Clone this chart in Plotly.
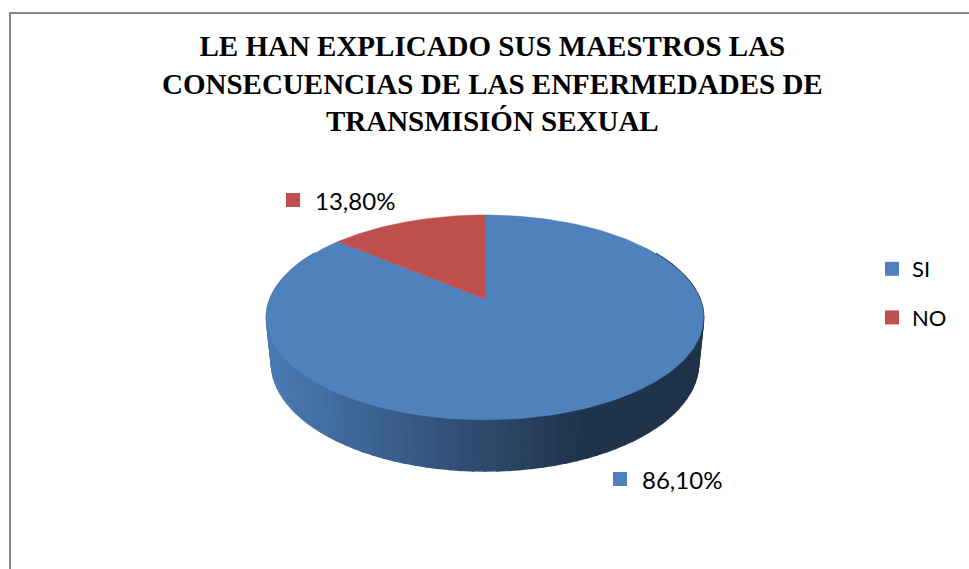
import numpy as np
import plotly.graph_objects as go

# ---------------- data ----------------
categories = ["SI", "NO"]
values = [86.1, 13.8]
label_texts = ["86,10%", "13,80%"]
title_lines = [
    "LE HAN EXPLICADO SUS MAESTROS LAS",
    "CONSECUENCIAS DE LAS ENFERMEDADES DE",
    "TRANSMISIÓN SEXUAL",
]

# ---------------- style / layout ----------------
slice_colors = ["#4f81bd", "#c0504d"]
label_pos = [(620, 479), (293, 200)]   # data-label anchor (marker centre), pixels
W, H = 969, 569
CX, CY = 485, 299          # pie centre on screen
FOC, DIST = 1060.0, 4.93   # perspective camera
SIN_E, COS_E = 0.461, 0.887  # elevation
THICK = 0.24               # pie thickness (radius units)
FONT = "Lato"


def proj(theta, yup=0.0):
    """theta: clockwise angle from 12 o'clock (rad). returns screen px."""
    X = np.sin(theta)
    Z = np.cos(theta)
    up = Z * SIN_E + yup * COS_E
    fwd = DIST + Z * COS_E - yup * SIN_E
    return CX + FOC * X / fwd, CY - FOC * up / fwd


total = float(sum(values))
bounds = np.concatenate([[0.0], np.cumsum(values) / total]) * 2 * np.pi


def slice_of(theta):
    t = theta % (2 * np.pi)
    for i in range(len(values)):
        if bounds[i] <= t < bounds[i + 1]:
            return i
    return len(values) - 1


def hex_rgb(h):
    h = h.lstrip("#")
    return tuple(int(h[i:i + 2], 16) for i in (0, 2, 4))


fig = go.Figure()

# ---- side wall (front part), drawn back to front ----
N = 90
ths = np.linspace(np.radians(60), np.radians(300), N + 1)
xl, _ = proj(np.radians(270))
xr, _ = proj(np.radians(90))
strips = []
for i in range(N):
    a, b = ths[i], ths[i + 1]
    m = 0.5 * (a + b)
    strips.append((np.cos(m), a, b, m))
strips.sort(key=lambda s: -s[0])
for _, a, b, m in strips:
    xa, ya = proj(a)
    xb, yb = proj(b)
    xa2, ya2 = proj(a, -THICK)
    xb2, yb2 = proj(b, -THICK)
    xm, _ = proj(m)
    t = np.clip((xm - xl) / (xr - xl), 0, 1)
    f = max(0.95 - 0.75 * t, 0.40)
    r, g, bl = hex_rgb(slice_colors[slice_of(m)])
    col = f"rgb({int(r*f)},{int(g*f)},{int(bl*f)})"
    fig.add_trace(go.Scatter(
        x=[xa, xb, xb2, xa2, xa], y=[ya, yb, yb2, ya2, ya],
        mode="lines", fill="toself", fillcolor=col,
        line=dict(color=col, width=1.6),
        hoverinfo="skip", showlegend=False))

# ---- top faces ----
for i, cat in enumerate(categories):
    th = np.linspace(bounds[i], bounds[i + 1], 200)
    px, py = proj(th)
    xs = np.concatenate([[CX], px, [CX]])
    ys = np.concatenate([[CY], py, [CY]])
    fig.add_trace(go.Scatter(
        x=xs, y=ys, mode="lines", fill="toself",
        fillcolor=slice_colors[i], line=dict(color=slice_colors[i], width=0.5),
        hoverinfo="text", text=f"{cat}: {label_texts[i]}", showlegend=False))

# ---- data labels ----
fig.add_trace(go.Scatter(
    x=[p[0] for p in label_pos], y=[p[1] for p in label_pos],
    mode="markers", marker=dict(symbol="square", size=14, color=slice_colors),
    hoverinfo="skip", showlegend=False))
for (lx, ly), txt in zip(label_pos, label_texts):
    fig.add_annotation(x=lx + 20, y=ly, xref="x", yref="y", xanchor="left",
                       yanchor="middle", text=txt, showarrow=False,
                       font=dict(family=FONT, size=24, color="#000000"))

# ---- legend entries ----
for i, cat in enumerate(categories):
    fig.add_trace(go.Scatter(
        x=[None], y=[None], mode="markers", name=cat, legendgroup=cat,
        marker=dict(symbol="square", size=14, color=slice_colors[i])))

fig.add_annotation(
    x=492, y=83, xref="x", yref="y", xanchor="center", yanchor="middle",
    text="<br>".join(f"<b>{l}</b>" for l in title_lines), showarrow=False,
    font=dict(family="Liberation Serif, Times New Roman, serif", size=29,
              color="#000000"))

fig.add_shape(type="rect", xref="x", yref="y", x0=10, y0=13, x1=1100, y1=700,
              line=dict(color="#878787", width=2), layer="above")

fig.update_layout(
    width=W, height=H, margin=dict(l=0, r=0, t=0, b=0),
    paper_bgcolor="white", plot_bgcolor="white",
    xaxis=dict(range=[0, W], visible=False, fixedrange=True),
    yaxis=dict(range=[H, 0], visible=False, fixedrange=True),
    showlegend=True,
    legend=dict(x=872 / W, y=1 - 248 / H, xanchor="left", yanchor="top",
                font=dict(family=FONT, size=22, color="#000000"),
                bgcolor="rgba(0,0,0,0)", tracegroupgap=17, itemwidth=30),
)

fig.write_html("out.html",
               config={"displayModeBar": False},
               post_script="document.body.style.margin='0px';"
                           "document.body.style.overflow='hidden';")
